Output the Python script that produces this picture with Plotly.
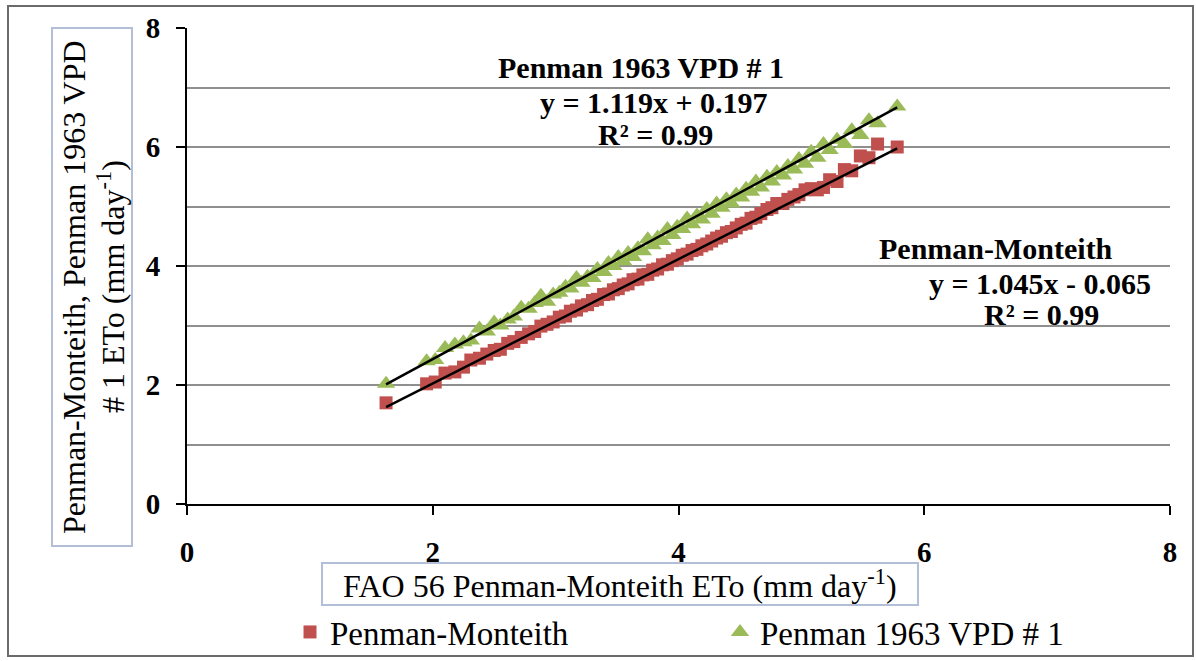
import plotly.graph_objects as go

# FAO 56 Penman-Monteith reference ETo (mm day-1), shared x for both methods
fao56_eto = [
    1.62, 1.95, 2.02, 2.10, 2.18, 2.25, 2.31, 2.38, 2.44, 2.50,
    2.55, 2.61, 2.66, 2.72, 2.78, 2.83, 2.88, 2.93, 2.98, 3.03,
    3.08, 3.12, 3.17, 3.21, 3.26, 3.30, 3.34, 3.39, 3.43, 3.47,
    3.51, 3.55, 3.59, 3.63, 3.67, 3.71, 3.75, 3.79, 3.83, 3.87,
    3.91, 3.95, 3.99, 4.03, 4.07, 4.11, 4.15, 4.19, 4.23, 4.27,
    4.31, 4.35, 4.39, 4.43, 4.47, 4.51, 4.55, 4.59, 4.63, 4.67,
    4.72, 4.76, 4.80, 4.85, 4.89, 4.94, 4.98, 5.03, 5.08, 5.13,
    5.18, 5.23, 5.29, 5.35, 5.41, 5.48, 5.55, 5.62, 5.78,
]

# Penman-Monteith ETo (mm day-1)
penman_monteith = [
    1.70, 2.02, 2.05, 2.20, 2.22, 2.30, 2.42, 2.45, 2.52, 2.58,
    2.60, 2.70, 2.73, 2.80, 2.86, 2.90, 2.99, 3.02, 3.06, 3.14,
    3.16, 3.24, 3.26, 3.33, 3.35, 3.42, 3.44, 3.52, 3.53, 3.60,
    3.62, 3.68, 3.70, 3.77, 3.78, 3.85, 3.86, 3.93, 3.95, 4.02,
    4.03, 4.09, 4.12, 4.18, 4.20, 4.26, 4.28, 4.34, 4.37, 4.42,
    4.47, 4.50, 4.56, 4.58, 4.64, 4.70, 4.72, 4.80, 4.82, 4.88,
    4.95, 4.98, 5.05, 5.05, 5.12, 5.16, 5.20, 5.28, 5.30, 5.28,
    5.32, 5.45, 5.42, 5.62, 5.60, 5.85, 5.82, 6.05, 6.00,
]

# Penman 1963 VPD #1 ETo (mm day-1)
penman_1963 = [
    2.02, 2.40, 2.42, 2.62, 2.68, 2.72, 2.75, 2.95, 2.90, 3.05,
    3.00, 3.10, 3.15, 3.30, 3.28, 3.38, 3.50, 3.40, 3.52, 3.55,
    3.65, 3.62, 3.80, 3.72, 3.82, 3.80, 3.95, 3.90, 4.05, 4.00,
    4.15, 4.08, 4.22, 4.15, 4.30, 4.25, 4.45, 4.35, 4.48, 4.42,
    4.62, 4.52, 4.66, 4.62, 4.80, 4.70, 4.85, 4.78, 4.96, 4.88,
    5.05, 4.98, 5.12, 5.05, 5.20, 5.15, 5.30, 5.25, 5.42, 5.32,
    5.50, 5.42, 5.58, 5.52, 5.68, 5.62, 5.80, 5.72, 5.92, 5.82,
    6.05, 5.95, 6.12, 6.05, 6.28, 6.20, 6.45, 6.40, 6.68,
]

# Linear trendlines: slope, intercept, R²
series_names = ["Penman-Monteith", "Penman 1963 VPD # 1"]
fit_slope = [1.045, 1.119]
fit_intercept = [-0.065, 0.197]
fit_r2 = [0.99, 0.99]

x_ticks = [0, 2, 4, 6, 8]
y_ticks = [0, 2, 4, 6, 8]

RED = "#C0504D"
GREEN = "#9BBB59"
FONT = "Liberation Serif"

W, H = 1196, 661
ML, MR, MT, MB = 187, 26, 28, 157
PW, PH = W - ML - MR, H - MT - MB


def px_x(p):
    return (p - ML) / PW


def px_y(p):
    return (H - MB - p) / PH


fig = go.Figure()

fig.add_trace(go.Scatter(
    x=fao56_eto, y=penman_monteith, mode="markers", name=series_names[0],
    marker=dict(symbol="square", size=13, color=RED, line=dict(width=0)),
))
fig.add_trace(go.Scatter(
    x=fao56_eto, y=penman_1963, mode="markers", name=series_names[1],
    marker=dict(symbol="triangle-up", size=16, color=GREEN, line=dict(width=0)),
))

x_lo, x_hi = min(fao56_eto), max(fao56_eto)
for m, b in zip(fit_slope, fit_intercept):
    fig.add_trace(go.Scatter(
        x=[x_lo, x_hi], y=[m * x_lo + b, m * x_hi + b], mode="lines",
        line=dict(color="black", width=2.5), showlegend=False, hoverinfo="skip",
    ))


def eq_text(m, b):
    sign = "+" if b >= 0 else "-"
    return f"y = {m:.3f}x {sign} {abs(b):.3f}"


ann_font = dict(family=FONT, size=30, color="black")
title_font = dict(family=FONT, size=32, color="black")
annotations = [
    dict(text="<b>Penman 1963 VPD # 1</b>", x=px_x(641), y=px_y(67)),
    dict(text=f"<b>{eq_text(fit_slope[1], fit_intercept[1])}</b>", x=px_x(654), y=px_y(102)),
    dict(text=f"<b>R² = {fit_r2[1]:.2f}</b>", x=px_x(655), y=px_y(134)),
    dict(text="<b>Penman-Monteith</b>", x=px_x(996), y=px_y(248)),
    dict(text=f"<b>{eq_text(fit_slope[0], fit_intercept[0])}</b>", x=px_x(1040), y=px_y(283)),
    dict(text=f"<b>R² = {fit_r2[0]:.2f}</b>", x=px_x(1041), y=px_y(314)),
    # axis titles inside framed boxes
    dict(text="Penman-Monteith, Penman 1963 VPD",
         x=px_x(74), y=px_y(287), textangle=-90, font=title_font),
    dict(text="# 1 ETo (mm day<sup>-1</sup>)",
         x=px_x(111), y=px_y(287), textangle=-90, font=title_font),
    dict(text="FAO 56 Penman-Monteith ETo (mm day<sup>-1</sup>)",
         x=px_x(620), y=px_y(584), font=title_font),
]
for a in annotations:
    a.setdefault("font", ann_font)
    a.update(xref="paper", yref="paper", showarrow=False,
             xanchor="center", yanchor="middle")

shapes = [
    # outer chart frame
    dict(type="rect", xref="paper", yref="paper",
         x0=px_x(8), x1=px_x(1193), y0=px_y(656), y1=px_y(6),
         line=dict(color="#6b6b6b", width=2), layer="below"),
    # y title box
    dict(type="rect", xref="paper", yref="paper",
         x0=px_x(52), x1=px_x(132), y0=px_y(546), y1=px_y(28),
         line=dict(color="#b3bfd6", width=2), layer="below"),
    # x title box
    dict(type="rect", xref="paper", yref="paper",
         x0=px_x(322), x1=px_x(918), y0=px_y(605), y1=px_y(563),
         line=dict(color="#b3bfd6", width=2), layer="below"),
]

tick_font = dict(family=FONT, size=29, color="black")

fig.update_layout(
    width=W, height=H,
    margin=dict(l=ML, r=MR, t=MT, b=MB, autoexpand=False),
    paper_bgcolor="white", plot_bgcolor="white",
    showlegend=True,
    legend=dict(
        orientation="h", x=px_x(290), y=px_y(632), xanchor="left", yanchor="middle",
        font=dict(family=FONT, size=33, color="black"),
        entrywidth=385, entrywidthmode="pixels",
        bgcolor="rgba(0,0,0,0)", itemsizing="trace",
    ),
    annotations=annotations,
    shapes=shapes,
    xaxis=dict(
        range=[0, 8], tickvals=x_ticks, ticktext=[f"<b>{v}</b>" for v in x_ticks],
        showgrid=False, zeroline=False,
        showline=True, linecolor="black", linewidth=2,
        ticks="outside", ticklen=9, tickwidth=2, tickcolor="black",
        tickfont=tick_font, ticklabelstandoff=12, automargin=False,
    ),
    yaxis=dict(
        range=[0, 8], tickvals=y_ticks, ticktext=[f"<b>{v}</b>" for v in y_ticks],
        showgrid=True, gridcolor="#8f8f8f", gridwidth=1.5, zeroline=False,
        showline=True, linecolor="black", linewidth=2,
        ticks="outside", ticklen=9, tickwidth=2, tickcolor="black",
        tickfont=tick_font, ticklabelstandoff=10, automargin=False,
        minor=dict(dtick=1, tick0=0, showgrid=True, gridcolor="#8f8f8f",
                   gridwidth=1.5, ticks=""),
    ),
)

fig.write_html("out.html")
